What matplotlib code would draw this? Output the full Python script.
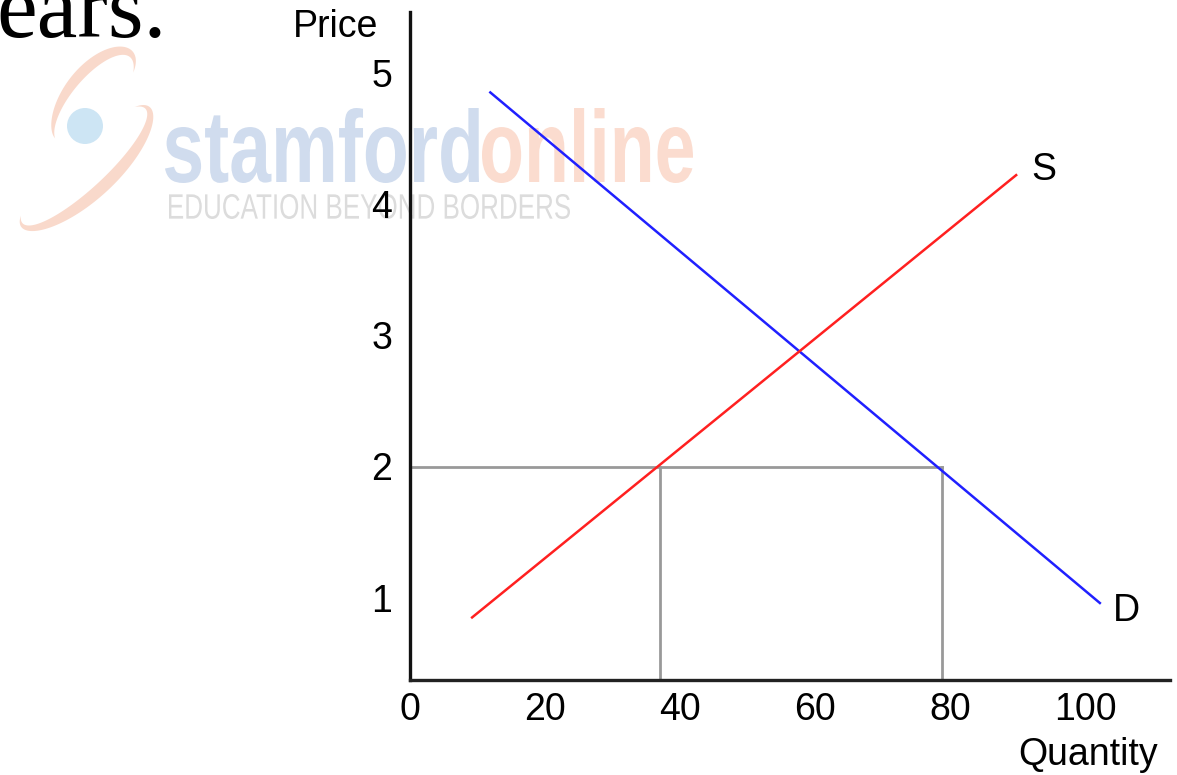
import numpy as np
import matplotlib
matplotlib.use("Agg")
import matplotlib.pyplot as plt
from matplotlib.patches import Circle, Polygon, PathPatch
from matplotlib.textpath import TextPath
from matplotlib.font_manager import FontProperties
from matplotlib.transforms import Affine2D

# Data
demand_q = [11.9, 102.2]
demand_p = [4.85, 0.96]
supply_q = [9.2, 89.8]
supply_p = [0.85, 4.22]
floor_price = 2.0
qs_at_floor = 37.0
qd_at_floor = 78.8
x_ticks = [0, 20, 40, 60, 80, 100]
y_ticks = [1, 2, 3, 4, 5]

W, H = 1177, 775
fig = plt.figure(figsize=(W / 100, H / 100), dpi=100)
fig.patch.set_facecolor("white")

# ---- Watermark (decorative, behind the chart) ----
wm = fig.add_axes([0, 0, 1, 1], zorder=0)
wm.set_xlim(0, W)
wm.set_ylim(H, 0)
wm.axis("off")


def crescent(cx, cy, a, b, theta_deg, t0, t1, wmax, color):
    th = np.deg2rad(theta_deg)
    u = np.array([np.cos(th), np.sin(th)])
    v = np.array([-np.sin(th), np.cos(th)])
    t = np.linspace(t0, t1, 200)
    s = np.sin(np.pi * (t - t0) / (t1 - t0))
    pts_in = np.array([cx, cy]) + np.outer(a * np.cos(t), u) + np.outer(b * np.sin(t), v)
    pts_out = np.array([cx, cy]) + np.outer((a + wmax * s) * np.cos(t), u) + \
        np.outer((b + wmax * s) * np.sin(t), v)
    poly = np.vstack([pts_in, pts_out[::-1]])
    wm.add_patch(Polygon(poly, closed=True, color=color, lw=0))


orange = "#f9d9cb"
crescent(94, 100, 56, 22, -50, 0.6, -2.9, 11, orange)
crescent(84, 166, 84, 22, -43, -0.4, 3.45, 12, orange)
wm.add_patch(Circle((85, 126), 18, color="#cde5f4", lw=0))


def box_text(s, x0, x1, ytop, ybot, color, weight="normal"):
    tp = TextPath((0, 0), s, size=100,
                  prop=FontProperties(family="Liberation Sans", weight=weight))
    bb = tp.get_extents()
    sx = (x1 - x0) / bb.width
    sy = (ybot - ytop) / bb.height
    tr = Affine2D().translate(-bb.x0, -bb.y0).scale(sx, -sy).translate(x0, ybot)
    wm.add_patch(PathPatch(tr.transform_path(tp), color=color, lw=0))


box_text("stamford", 165, 479, 108, 183, "#d0dcee", "bold")
box_text("online", 482, 693, 108, 183, "#fbdccf", "bold")
box_text("EDUCATION BEYOND BORDERS", 169, 570, 194, 219, "#dcdcdc")

# Cropped text from the surrounding page
wm.text(-4, 37, "ears.", fontsize=66, family="Liberation Serif",
        color="black", va="baseline", ha="left")

# ---- Chart ----
left, right = 410 / W, 1170 / W
bottom, top = 1 - 680 / H, 1 - 12 / H
ax = fig.add_axes([left, bottom, right - left, top - bottom], zorder=1)
ax.patch.set_alpha(0)

x_per_px = 100 / (1085 - 410)
ax.set_xlim(0, (1170 - 410) * x_per_px)
ax.set_ylim((729 - 680) / 131.25, (729 - 12) / 131.25)

for s in ["top", "right"]:
    ax.spines[s].set_visible(False)
ax.spines["left"].set_linewidth(2.4)
ax.spines["left"].set_color("#111111")
ax.spines["bottom"].set_linewidth(2.4)
ax.spines["bottom"].set_color("#222222")

lab_font = dict(family="Liberation Sans", fontsize=27)
ax.set_xticks(x_ticks)
ax.set_xticklabels([str(v) for v in x_ticks], **lab_font)
ax.set_yticks(y_ticks)
ax.set_yticklabels([str(v) for v in y_ticks], **lab_font)
ax.tick_params(length=0, pad=9)
ax.tick_params(axis="y", pad=13)

# Floor price lines
ax.plot([0, qd_at_floor], [floor_price, floor_price], color="#999999", lw=2)
ax.plot([qs_at_floor, qs_at_floor], [0, floor_price], color="#999999", lw=2)
ax.plot([qd_at_floor, qd_at_floor], [0, floor_price], color="#999999", lw=2)

# Demand and supply
ax.plot(demand_q, demand_p, color="#2020ff", lw=1.8)
ax.plot(supply_q, supply_p, color="#ff2020", lw=1.8)

ax.text(supply_q[1] + 2.3, supply_p[1] + 0.04, "S", ha="left", va="center", **lab_font)
ax.text(demand_q[1] + 2.0, demand_p[1] - 0.06, "D", ha="left", va="center", **lab_font)

fig.text(336 / W, 1 - 27 / H, "Price", ha="center", va="center", **lab_font)
fig.text(1088 / W, 1 - 755 / H, "Quantity", ha="center", va="center", **lab_font)

fig.savefig("out.png", dpi=100)
